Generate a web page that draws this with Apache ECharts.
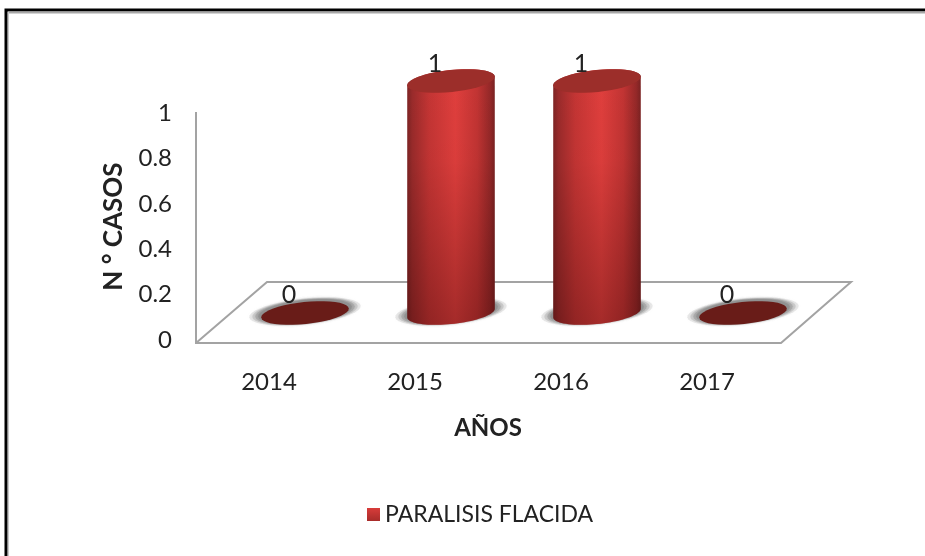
<!DOCTYPE html>
<html><head><meta charset="utf-8">
<style>html,body{margin:0;padding:0;background:#fff}#c{width:925px;height:556px}</style>
<script src="https://cdn.jsdelivr.net/npm/echarts@6/dist/echarts.min.js"></script>
</head><body><div id="c"></div>
<script>
const categories = ['2014', '2015', '2016', '2017'];
const casos = [0, 1, 1, 0];
const yTicks = [0, 0.2, 0.4, 0.6, 0.8, 1];
const seriesName = 'PARALISIS FLACIDA';
const font = 'Lato';

const depthX = 36, depthY = 27, rx = 44, ry = 11, tilt = -6 * Math.PI / 180;

function ell(cx, cy, a, b, t) {
  return [cx + a * Math.cos(t) * Math.cos(tilt) - b * Math.sin(t) * Math.sin(tilt),
          cy + a * Math.cos(t) * Math.sin(tilt) + b * Math.sin(t) * Math.cos(tilt)];
}
function arc(cx, cy, a, b, from, to) {
  const p = [];
  for (let i = 0; i <= 40; i++) p.push(ell(cx, cy, a, b, from + (to - from) * i / 40));
  return p;
}
const t0 = Math.atan2(-ry * Math.sin(tilt), rx * Math.cos(tilt));

function renderFloor(params, api) {
  if (params.dataIndex !== 0) return null;
  const cs = params.coordSys;
  const l = cs.x, r = cs.x + cs.width, t = cs.y, b = cs.y + cs.height;
  const style = {stroke: '#a3a3a3', lineWidth: 2, fill: 'none'};
  return {type: 'group', silent: true, children: [
    {type: 'polyline', shape: {points: [[l, t - 1], [l, b + 3], [r + 1, b + 3], [r + 71, b - 58], [l + 71, b - 58], [l, b + 3]]}, style}
  ]};
}
function renderCyl(params, api) {
  const v = api.value(1);
  const base = api.coord([api.value(0), 0]);
  const head = api.coord([api.value(0), v]);
  const cx = base[0] + depthX, by = base[1] - depthY;
  const ty = head[1] - depthY - 5 * v;
  const kids = [];
  [[56, 13, 'rgba(170,170,170,0.25)'], [53, 12.5, 'rgba(160,160,160,0.35)'], [50, 12, 'rgba(150,150,150,0.5)'], [47, 11.5, 'rgba(140,140,140,0.7)']].forEach(s => {
    kids.push({type: 'polygon', silent: true, shape: {points: arc(cx, by - 1.5, s[0], s[1], 0, Math.PI * 2)},
      style: {fill: s[2], shadowBlur: 3, shadowColor: s[2]}});
  });
  if (v > 0) {
    const pts = arc(cx, by, rx, ry, t0, t0 + Math.PI).concat(arc(cx, ty, rx, ry, t0 + Math.PI, t0 + 2 * Math.PI));
    kids.push({type: 'polygon', shape: {points: pts}, style: {
      fill: new echarts.graphic.LinearGradient(0, 0, 1, 0, [
        {offset: 0, color: '#7e2424'}, {offset: 0.06, color: '#9a2b2b'}, {offset: 0.25, color: '#c43534'},
        {offset: 0.55, color: '#e03f3d'}, {offset: 0.8, color: '#c23433'}, {offset: 0.95, color: '#942828'}, {offset: 1, color: '#7a2222'}])}});
    kids.push({type: 'polygon', silent: true, shape: {points: pts}, style: {
      fill: new echarts.graphic.LinearGradient(0, 0, 0, 1, [
        {offset: 0, color: 'rgba(40,0,0,0)'}, {offset: 0.35, color: 'rgba(40,0,0,0.03)'}, {offset: 1, color: 'rgba(40,0,0,0.32)'}])}});
    kids.push({type: 'polygon', shape: {points: arc(cx, ty, rx, ry, 0, Math.PI * 2)}, style: {fill: '#9c2e2a'}});
  } else {
    kids.push({type: 'polygon', shape: {points: arc(cx, by, rx, ry, 0, Math.PI * 2)}, style: {fill: '#691c18'}});
  }
  kids.push({type: 'text', silent: true, x: head[0] + 20, y: head[1] - 45 - 4 * v,
    style: {text: String(v), font: '25px ' + font, fill: '#222', align: 'center', verticalAlign: 'middle'}});
  return {type: 'group', children: kids};
}

const chart = echarts.init(document.getElementById('c'), null, {renderer: 'canvas'});
chart.setOption({
  animation: false,
  backgroundColor: '#fff',
  textStyle: {fontFamily: font},
  graphic: [
    {type: 'rect', silent: true, shape: {x: 6, y: 10, width: 940, height: 600},
     style: {fill: 'none', stroke: '#000', lineWidth: 3}},
    {type: 'line', silent: true, shape: {x1: 8, y1: 12.5, x2: 925, y2: 12.5},
     style: {stroke: '#a8a8a8', lineWidth: 2}},
    {type: 'line', silent: true, shape: {x1: 8.5, y1: 12, x2: 8.5, y2: 556},
     style: {stroke: '#c8c8c8', lineWidth: 1}}
  ],
  legend: {left: 362, top: 498, icon: 'rect', itemWidth: 13, itemHeight: 13, itemGap: 7,
    data: [seriesName], selectedMode: false,
    textStyle: {fontFamily: font, fontSize: 23, color: '#222'}},
  grid: {left: 196, width: 584, top: 113, height: 227, containLabel: false},
  xAxis: {type: 'category', data: categories, name: 'AÑOS', nameLocation: 'middle', nameGap: 76,
    nameTextStyle: {fontFamily: font, fontSize: 24, fontWeight: 'bold', color: '#222'},
    axisLine: {show: false}, axisTick: {show: false}, splitLine: {show: false},
    axisLabel: {fontFamily: font, fontSize: 24, color: '#222', margin: 30}},
  yAxis: {type: 'value', min: 0, max: 1, interval: 0.2, name: 'N ° CASOS', nameLocation: 'middle', nameGap: 69,
    nameTextStyle: {fontFamily: font, fontSize: 26, fontWeight: 'bold', color: '#222'},
    axisLine: {show: false}, axisTick: {show: false}, splitLine: {show: false},
    axisLabel: {fontFamily: font, fontSize: 24, color: '#222', margin: 24,
      formatter: v => yTicks.includes(+v.toFixed(1)) ? String(+v.toFixed(1)) : ''}},
  series: [
    {type: 'custom', name: 'floor', renderItem: renderFloor, silent: true, z: 1, data: casos.map((v, i) => [i, v]), encode: {x: 0, y: 1}},
    {type: 'custom', name: seriesName, renderItem: renderCyl, z: 2, data: casos.map((v, i) => [i, v]), encode: {x: 0, y: 1},
     itemStyle: {color: new echarts.graphic.LinearGradient(0, 0, 0, 1, [{offset: 0, color: '#d83c3a'}, {offset: 1, color: '#a82c2a'}])}}
  ]
});
</script></body></html>
